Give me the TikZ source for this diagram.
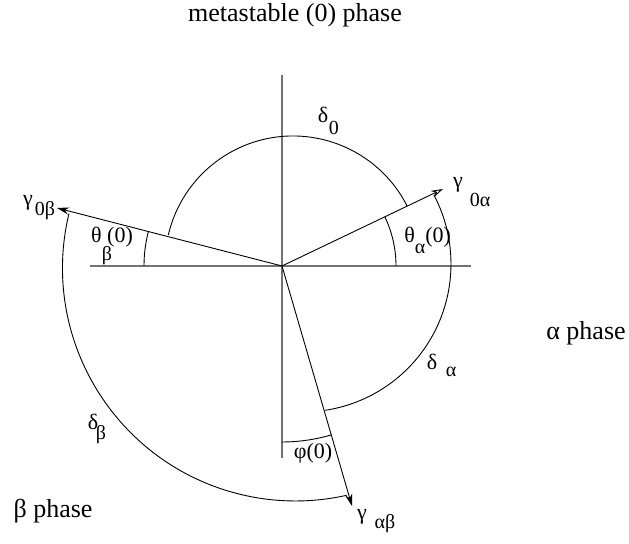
\documentclass[tikz,border=0pt]{standalone}
\usepackage{fontspec}
\setmainfont{Liberation Serif}
\usetikzlibrary{arrows.meta}
\begin{document}
\begin{tikzpicture}[x=0.5pt,y=0.5pt,
  axis/.style={draw=black!55, line width=0.6pt},
  curve/.style={draw=black, line width=0.45pt},
  vec/.style={draw=black, line width=0.45pt, -{Stealth[length=6pt,width=3.6pt]}},
  vecopen/.style={draw=black, line width=0.45pt, -{Stealth[open,length=6pt,width=3.6pt]}},
  lbl/.style={inner sep=0pt, font=\fontsize{11}{13}\selectfont},
  sublbl/.style={inner sep=0pt, font=\fontsize{10}{12}\selectfont},
  biglbl/.style={inner sep=0pt, font=\fontsize{13}{15}\selectfont}]
\useasboundingbox (0,0) rectangle (629,544);
% axes
\coordinate (O) at (282,278);
\coordinate (hl) at (90,278);
\coordinate (hr) at (471,278);
\coordinate (vt) at (282,469);
\coordinate (vb) at (282,86);
\draw[axis] (hl) -- (hr);
\draw[axis] (vt) -- (vb);
% vectors
\coordinate (t0b) at (57,336);
\coordinate (t0a) at (443,355);
\coordinate (tab) at (352,38);
\draw[vec] (O) -- (t0b);
\draw[vecopen] (O) -- (t0a);
\draw[vec] (O) -- (tab);
% big arcs
\coordinate (c0) at (293,280);
\coordinate (ca) at (303,280);
\coordinate (cb) at (295.5,276);
\draw[curve] ([shift={(26.8:128)}]c0) arc[start angle=26.8, end angle=166.9, radius=128];
\draw[curve] ([shift={(27.8:148)}]ca) arc[start angle=27.8, end angle=-81.4, radius=148];
\draw[curve] ([shift={(166.5:233)}]cb) arc[start angle=166.5, end angle=282.7, radius=233];
% angle arcs
\draw[curve] ([shift={(165.5:138)}]O) arc[start angle=165.5, end angle=180, radius=138];
\draw[curve] ([shift={(0:114)}]O) arc[start angle=0, end angle=25.6, radius=114];
\draw[curve] ([shift={(270:176)}]O) arc[start angle=270, end angle=286.3, radius=176];
% labels
\node[biglbl] (meta) at (295,529) {metastable (0) phase};
\node[biglbl] (aph) at (586,211) {α phase};
\node[biglbl] (bph) at (53,33) {β phase};
\node[lbl] (d0) at (323,429) {δ};
\node[sublbl] (d0s) at (334,416) {0};
\node[lbl] (g0a) at (458,359) {γ};
\node[sublbl] (g0as) at (480,344) {0α};
\node[lbl, anchor=base west] (tha) at (404,301) {θ\raisebox{-0.5em}{\fontsize{10}{12}\selectfont α}(0)};
\node[lbl] (g0b) at (28,341) {γ};
\node[sublbl] (g0bs) at (45,333) {0β};
\node[lbl] (thb) at (112,307) {θ (0)};
\node[sublbl] (thbs) at (107,288) {β};
\node[lbl] (da) at (432,182) {δ};
\node[sublbl] (das) at (451,172) {α};
\node[lbl] (phi) at (313,91) {φ(0)};
\node[lbl] (db) at (93,122) {δ};
\node[sublbl] (dbs) at (101,109) {β};
\node[lbl] (gab) at (362,27) {γ};
\node[sublbl] (gabs) at (385,20) {αβ};
\end{tikzpicture}
\end{document}
